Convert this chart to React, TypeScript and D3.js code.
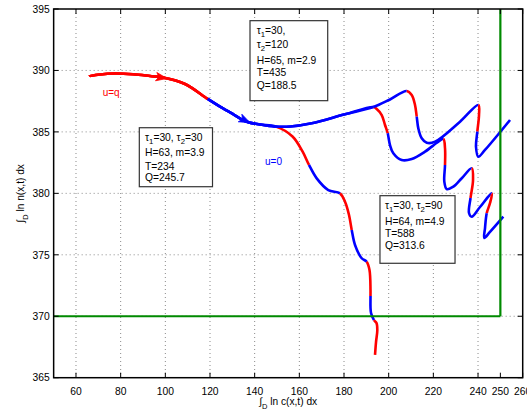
import React from 'react';
import * as d3 from 'd3';

const W = 527;
const H = 411;
const PLOT = { left: 53.65, right: 522.7, top: 9, bottom: 377.7 };
const FONT = 'Liberation Sans, Arial, Helvetica, sans-serif';

const xTicks = [60, 80, 100, 120, 140, 160, 180, 200, 220, 240, 250, 260];
const yTicks = [365, 370, 375, 380, 385, 390, 395];
const xGrid = [60, 80, 100, 120, 140, 160, 180, 200, 220, 240];
const yGrid = [370, 375, 380, 385, 390];

// green constraint lines
const greenH = [[50, 370], [250, 370]];
const greenV = [[250, 370], [250, 395]];

// common start
const startRed = [[65.96, 389.52], [70.75, 389.67], [77.47, 389.75], [85.53, 389.69], [93.14, 389.55], [98.96, 389.43], [108.81, 388.9], [118.97, 387.68]];
const startBlue = [[118.97, 387.68], [124.48, 387.05], [130.43, 386.43], [136.43, 385.83], [142.39, 385.6], [149.5, 385.43]];
const sharedBlue = [[149.5, 385.43], [156.0, 385.44], [165.54, 385.7], [180.45, 386.43], [193.12, 387.02]];

// trajectory tau2 = 30 (goes down)
const rRed1 = [[149.5, 385.43], [156.94, 384.63], [161.42, 383.41], [164.33, 382.31]];
const rBlue1 = [[164.33, 382.31], [167.78, 381.22], [172.97, 380.27], [178.21, 380.0]];
const rRed2 = [[178.21, 380.0], [180.45, 379.32], [182.24, 378.24], [183.45, 377.02]];
const rBlue2 = [[183.45, 377.02], [184.93, 375.8], [187.92, 374.72], [190.16, 374.44]];
const rRed3 = [[190.16, 374.44], [191.41, 373.76], [191.86, 372.14], [191.86, 371.65]];
const rBlue3 = [[191.86, 371.65], [192.09, 370.26], [193.43, 369.69]];
const rRed4 = [[193.43, 369.69], [194.55, 369.45], [194.91, 368.88], [194.33, 367.9], [193.88, 366.85]];

// upper trajectory
const pBlue1 = [[193.12, 387.02], [200.59, 387.64], [208.07, 388.33]];
const pRed1 = [[208.07, 388.33], [210.31, 388.0], [211.79, 387.19], [212.55, 386.24]];
const pBlue2 = [[212.55, 386.24], [213.27, 385.29], [214.79, 384.48], [217.03, 384.12], [220.74, 384.2], [231.94, 385.83], [240.13, 387.19]];
const pRed2 = [[240.13, 387.19], [240.44, 386.37], [239.68, 385.02]];
const pBlue3 = [[239.68, 385.02], [239.1, 383.77], [240.13, 382.98], [243.12, 383.53], [254.32, 385.97]];

// middle trajectory
const qRed1 = [[193.12, 387.02], [194.64, 386.86], [196.88, 386.37], [198.36, 385.56], [199.56, 384.89]];
const qBlue1 = [[199.56, 384.89], [200.59, 383.93], [202.07, 383.26], [205.83, 382.71], [210.31, 382.79], [216.26, 383.39], [222.22, 384.2], [224.46, 384.42]];
const qRed2 = [[224.46, 384.42], [225.22, 383.67], [225.22, 382.31]];
const qBlue2 = [[225.22, 382.31], [224.91, 380.95], [225.98, 380.35], [228.94, 380.54], [232.83, 381.25], [237.17, 382.04]];
const qRed3 = [[237.17, 382.04], [237.76, 381.09], [236.64, 379.62]];
const qBlue3 = [[236.64, 379.62], [235.96, 378.4], [237.17, 378.1], [240.89, 378.89], [246.13, 380.0]];
const qRed4 = [[246.13, 380.0], [245.37, 379.21], [243.89, 378.38]];
const qBlue4 = [[243.89, 378.38], [243.13, 377.18], [242.81, 376.37], [245.36, 376.86], [251.32, 378.1]];

const trajectories = [
  [[startRed, 'red'], [startBlue, 'blue'], [rRed1, 'red'], [rBlue1, 'blue'], [rRed2, 'red'], [rBlue2, 'blue'], [rRed3, 'red'], [rBlue3, 'blue'], [rRed4, 'red']],
  [[startRed, 'red'], [startBlue, 'blue'], [sharedBlue, 'blue'], [qRed1, 'red'], [qBlue1, 'blue'], [qRed2, 'red'], [qBlue2, 'blue'], [qRed3, 'red'], [qBlue3, 'blue'], [qRed4, 'red'], [qBlue4, 'blue']],
  [[startRed, 'red'], [startBlue, 'blue'], [sharedBlue, 'blue'], [pBlue1, 'blue'], [pRed1, 'red'], [pBlue2, 'blue'], [pRed2, 'red'], [pBlue3, 'blue']],
];

// arrows: [tip, back] in data units
const arrows = [
  { tip: [100.75, 389.35], back: [95.38, 389.51], color: 'red' },
  { tip: [137.91, 385.75], back: [132.54, 386.21], color: 'blue' },
];

// annotation boxes (corners in data units), text lines ("_" marks a one-char subscript)
const box1Lines = ['τ_1=30, τ_2=30', 'H=63, m=3.9', 'T=234', 'Q=245.7'];
const box2Lines = ['τ_1=30,', 'τ_2=120', 'H=65, m=2.9', 'T=435', 'Q=188.5'];
const box3Lines = ['τ_1=30, τ_2=90', 'H=64, m=4.9', 'T=588', 'Q=313.6'];
const boxes = [
  { c0: [88.35, 385.34], c1: [121.12, 380.54], lines: box1Lines, dx: 5.7, base: [13.3, 28.3, 41.8, 53.3] },
  { c0: [137.91, 394.05], c1: [172.7, 387.54], lines: box2Lines, dx: 6.7, base: [12.9, 27.6, 43.2, 55.6, 68.2] },
  { c0: [196.1, 379.81], c1: [229.7, 374.31], lines: box3Lines, dx: 5, base: [12.9, 28.9, 41.3, 52.9] },
];

const labels = [
  { text: 'u=q', at: [71.96, 387.92], color: '#ff0000' },
  { text: 'u=0', at: [144.63, 382.28], color: '#0000ff' },
];

const COLORS: Record<string, string> = { red: '#ff0000', blue: '#0000ff' };

const x = d3.scaleLinear().domain([50, 260]).range([PLOT.left, PLOT.right]);
const y = d3.scaleLinear().domain([365, 395]).range([PLOT.bottom, PLOT.top]);

function buildSegments(segs: any[]) {
  const pts: number[][] = [];
  const spans: { a: number; b: number; color: string }[] = [];
  segs.forEach(([arr, color]: [number[][], string]) => {
    const a = pts.length === 0 ? 0 : pts.length - 1;
    arr.forEach((p, i) => {
      if (i === 0 && pts.length > 0) return;
      pts.push(p);
    });
    spans.push({ a, b: pts.length - 1, color });
  });
  const line = d3
    .line<number[]>()
    .x((d) => x(d[0]))
    .y((d) => y(d[1]))
    .curve(d3.curveCatmullRom.alpha(0.5));
  const d = line(pts) || '';
  const cmds = d.split('C').slice(1);
  return spans.map((s) => ({
    color: s.color,
    d: `M${x(pts[s.a][0])},${y(pts[s.a][1])}C` + cmds.slice(s.a, s.b).join('C'),
  }));
}

function RichText({ text, x0, y0, size }: { text: string; x0: number; y0: number; size: number }) {
  const parts: { t: string; sub: boolean }[] = [];
  let buf = '';
  for (let i = 0; i < text.length; i++) {
    if (text[i] === '_' && i + 1 < text.length) {
      if (buf) parts.push({ t: buf, sub: false });
      buf = '';
      parts.push({ t: text[i + 1], sub: true });
      i++;
    } else buf += text[i];
  }
  if (buf) parts.push({ t: buf, sub: false });
  let prevSub = false;
  return (
    <text x={x0} y={y0} fontFamily={FONT} fontSize={size} fill="#000">
      {parts.map((p, i) => {
        const dy = p.sub && !prevSub ? 3 : !p.sub && prevSub ? -3 : 0;
        prevSub = p.sub;
        return (
          <tspan key={i} dy={dy} fontSize={p.sub ? size * 0.75 : size}>
            {p.t}
          </tspan>
        );
      })}
    </text>
  );
}

export default function App() {
  const segPaths = trajectories.flatMap((t) => buildSegments(t));
  const gline = d3.line<number[]>().x((d) => x(d[0])).y((d) => y(d[1]));
  const tickLen = 5;

  return (
    <svg width={W} height={H} style={{ position: 'absolute', left: 0, top: 0, background: '#fff' }}>
      <rect x={0} y={0} width={W} height={H} fill="#fff" />
      {/* grid */}
      <g stroke="#8a8a8a" strokeWidth={1} strokeDasharray="1,3">
        {xGrid.map((v) => (
          <line key={'gx' + v} x1={x(v)} x2={x(v)} y1={PLOT.top} y2={PLOT.bottom} />
        ))}
        {yGrid.map((v) => (
          <line key={'gy' + v} x1={PLOT.left} x2={PLOT.right} y1={y(v)} y2={y(v)} />
        ))}
      </g>
      {/* trajectories */}
      <g fill="none" strokeWidth={2.6} strokeLinecap="butt" strokeLinejoin="round">
        {segPaths.map((s, i) => (
          <path key={i} d={s.d} stroke={COLORS[s.color]} />
        ))}
      </g>
      {/* arrows */}
      {arrows.map((a, i) => {
        const tx = x(a.tip[0]);
        const ty = y(a.tip[1]);
        const bx = x(a.back[0]);
        const by = y(a.back[1]);
        const ang = Math.atan2(ty - by, tx - bx);
        const L = 11;
        const w = 4.2;
        const ca = Math.cos(ang);
        const sa = Math.sin(ang);
        const p1 = [tx - L * ca + w * sa, ty - L * sa - w * ca];
        const p2 = [tx - L * ca - w * sa, ty - L * sa + w * ca];
        const pn = [tx - L * 0.75 * ca, ty - L * 0.75 * sa];
        return (
          <path
            key={'ar' + i}
            d={`M${tx},${ty}L${p1[0]},${p1[1]}L${pn[0]},${pn[1]}L${p2[0]},${p2[1]}Z`}
            fill={COLORS[a.color]}
            stroke={COLORS[a.color]}
            strokeWidth={0.8}
          />
        );
      })}
      {/* green constraints */}
      <g fill="none" stroke="#008a00" strokeWidth={2.2}>
        <path d={gline(greenH) || ''} />
        <path d={gline(greenV) || ''} />
      </g>
      {/* annotation boxes */}
      {boxes.map((b, i) => {
        const x0 = x(b.c0[0]);
        const y0 = y(b.c0[1]);
        const x1 = x(b.c1[0]);
        const y1 = y(b.c1[1]);
        return (
          <g key={'bx' + i}>
            <rect x={x0} y={y0} width={x1 - x0} height={y1 - y0} fill="#fff" stroke="#333" strokeWidth={1.2} />
            {b.lines.map((ln, j) => (
              <RichText key={j} text={ln} x0={x0 + b.dx} y0={y0 + b.base[j]} size={10.3} />
            ))}
          </g>
        );
      })}
      {/* u labels */}
      {labels.map((l) => (
        <text key={l.text} x={x(l.at[0])} y={y(l.at[1])} fill={l.color} fontFamily={FONT} fontSize={10}>
          {l.text}
        </text>
      ))}
      {/* frame */}
      <rect
        x={PLOT.left}
        y={PLOT.top}
        width={PLOT.right - PLOT.left}
        height={PLOT.bottom - PLOT.top}
        fill="none"
        stroke="#000"
        strokeWidth={1.5}
      />
      {/* ticks */}
      <g stroke="#000" strokeWidth={1}>
        {xTicks.map((v) => (
          <g key={'tx' + v}>
            <line x1={x(v)} x2={x(v)} y1={PLOT.bottom} y2={PLOT.bottom - tickLen} />
            <line x1={x(v)} x2={x(v)} y1={PLOT.top} y2={PLOT.top + tickLen} />
          </g>
        ))}
        {yTicks.map((v) => (
          <g key={'ty' + v}>
            <line x1={PLOT.left} x2={PLOT.left + tickLen} y1={y(v)} y2={y(v)} />
            <line x1={PLOT.right} x2={PLOT.right - tickLen} y1={y(v)} y2={y(v)} />
          </g>
        ))}
      </g>
      {/* tick labels */}
      <g fontFamily={FONT} fontSize={10.3} fill="#000">
        {xTicks.map((v) => (
          <text key={'lx' + v} x={x(v)} y={PLOT.bottom + 17.2} textAnchor="middle">
            {v}
          </text>
        ))}
        {yTicks.map((v) => (
          <text key={'ly' + v} x={PLOT.left - 4} y={y(v) + 3.7} textAnchor="end">
            {v}
          </text>
        ))}
      </g>
      {/* axis labels */}
      <text x={(PLOT.left + PLOT.right) / 2} y={405} textAnchor="middle" fontFamily={FONT} fontSize={10.2} fill="#000">
        <tspan>∫</tspan>
        <tspan dy={3.5} fontSize={7.5}>D</tspan>
        <tspan dy={-3.5}> ln c(x,t) dx</tspan>
      </text>
      <text
        transform={`translate(24,${(PLOT.top + PLOT.bottom) / 2}) rotate(-90)`}
        textAnchor="middle"
        fontFamily={FONT}
        fontSize={10.2}
        fill="#000"
      >
        <tspan>∫</tspan>
        <tspan dy={3.5} fontSize={7.5}>D</tspan>
        <tspan dy={-3.5}> ln n(x,t) dx</tspan>
      </text>
    </svg>
  );
}
